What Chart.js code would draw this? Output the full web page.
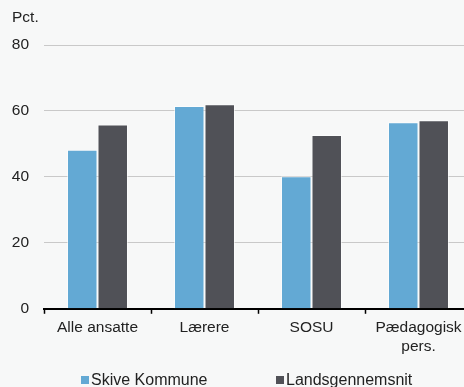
<!DOCTYPE html>
<html>
<head>
<meta charset="utf-8">
<script src="https://cdn.jsdelivr.net/npm/chart.js@4/dist/chart.umd.min.js"></script>
<style>
  html, body { margin: 0; padding: 0; background: #f7f8f8; overflow: hidden; }
  #wrap { width: 472px; height: 387px; }
</style>
</head>
<body>
<div id="wrap"><canvas id="chart" width="472" height="387"></canvas></div>
<script>
// data
const categories = ['Alle ansatte', 'Lærere', 'SOSU', ['Pædagogisk', 'pers.']];
const seriesNames = ['Skive Kommune', 'Landsgennemsnit'];
const skiveValues = [48.2, 61.5, 40.2, 56.6];
const landsValues = [55.9, 62.0, 52.7, 57.2];
const yTicks = [0, 20, 40, 60, 80];

const FONT = "'Liberation Sans', Arial, Helvetica, sans-serif";
const TEXT = '#222';

// "Pct." over the y axis and the legend row under the chart
const extras = {
    id: 'extras',
    afterDraw(chart) {
        const ctx = chart.ctx;
        ctx.save();
        ctx.textAlign = 'left';
        ctx.textBaseline = 'middle';
        ctx.fillStyle = TEXT;
        ctx.font = '15.5px ' + FONT;
        ctx.fillText('Pct.', 12, 18);

        // legend: small square then the series name
        const legendX = [81, 276];
        ctx.font = '16px ' + FONT;
        chart.data.datasets.forEach((ds, i) => {
            ctx.fillStyle = ds.backgroundColor;
            ctx.fillRect(legendX[i], 376, 8, 8);
            ctx.fillStyle = TEXT;
            ctx.fillText(ds.label, legendX[i] + 10, 381);
        });
        ctx.restore();
    }
};

new Chart(document.getElementById('chart'), {
    type: 'bar',
    data: {
        labels: categories,
        datasets: [
            {
                label: seriesNames[0],
                data: skiveValues,
                backgroundColor: '#63a9d4',
                borderColor: 'rgba(255,255,255,0.55)',
                borderWidth: 1,
                categoryPercentage: 0.57,
                barPercentage: 1.0
            },
            {
                label: seriesNames[1],
                data: landsValues,
                backgroundColor: '#505157',
                borderColor: 'rgba(255,255,255,0.55)',
                borderWidth: 1,
                categoryPercentage: 0.57,
                barPercentage: 1.0
            }
        ]
    },
    options: {
        responsive: false,
        animation: false,
        layout: { padding: { left: 0, right: 0, top: 45, bottom: 26 } },
        plugins: {
            tooltip: { enabled: false },
            legend: { display: false }
        },
        scales: {
            x: {
                offset: true,
                grid: {
                    display: true,
                    offset: true,
                    drawOnChartArea: false,
                    drawTicks: true,
                    tickLength: 5,
                    tickWidth: 1.5,
                    tickColor: '#000'
                },
                border: { display: true, color: '#000', width: 2 },
                ticks: {
                    font: { family: FONT, size: 15.5 },
                    color: TEXT,
                    padding: 5,
                    maxRotation: 0,
                    autoSkip: false
                }
            },
            y: {
                min: 0,
                max: 80,
                afterFit(scale) { scale.width = 44; },
                afterBuildTicks(scale) { scale.ticks = yTicks.map(v => ({ value: v })); },
                grid: { color: '#c9c9c9', lineWidth: 1, drawTicks: false },
                border: { display: false },
                ticks: {
                    font: { family: FONT, size: 15.5 },
                    color: TEXT,
                    padding: 15
                }
            }
        }
    },
    plugins: [extras]
});
</script>
</body>
</html>
